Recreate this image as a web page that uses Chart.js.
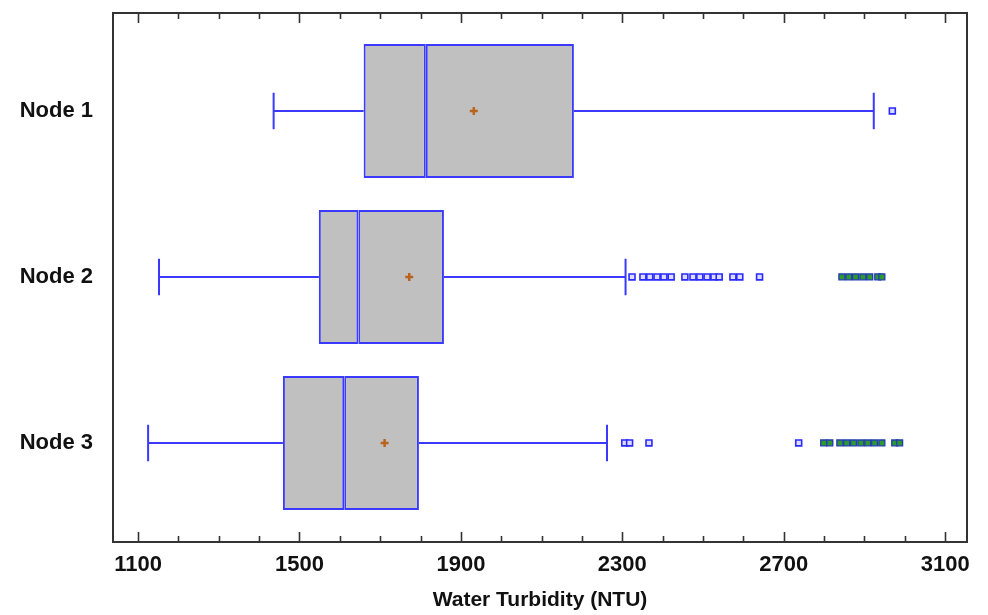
<!DOCTYPE html>
<html>
<head>
<meta charset="utf-8">
<script src="https://cdn.jsdelivr.net/npm/chart.js@4.4.1/dist/chart.umd.min.js"></script>
<style>
  html, body { margin: 0; padding: 0; background: #fff; }
  #wrap { width: 988px; height: 615px; }
</style>
</head>
<body>
<div id="wrap"><canvas id="boxChart"></canvas></div>
<script>
// box plot values
var categories = ["Node 1", "Node 2", "Node 3"];
var whiskerLow = [1436, 1152, 1125];
var q1 = [1659, 1548, 1459];
var median = [1813, 1646, 1611];
var q3 = [2180, 1858, 1796];
var whiskerHigh = [2923, 2308, 2262];
var means = [1932, 1772, 1711];

// outside points (blue) and far outside points (green)
var outliers = [
  [2969],
  [2324, 2351, 2368, 2386, 2403, 2421, 2455, 2475, 2492, 2510, 2527, 2540, 2574, 2591, 2640],
  [2306, 2318, 2366, 2737]
];
var farOutliers = [
  [],
  [2844, 2861, 2878, 2896, 2913, 2933, 2943],
  [2799, 2814, 2839, 2856, 2873, 2891, 2908, 2925, 2943, 2975, 2987]
];

var xTicks = [1100, 1500, 1900, 2300, 2700, 3100];

var FONT = "'Liberation Sans', Arial, sans-serif";
var BLUE = "#3a3aff";

function pointsFrom(lists) {
  var pts = [];
  lists.forEach(function (vals, i) {
    vals.forEach(function (v) { pts.push({ x: v, y: i + 1 }); });
  });
  return pts;
}

// whiskers behind the boxes, frame + inward ticks on top
var boxExtras = {
  id: "boxExtras",
  beforeDatasetsDraw: function (chart) {
    var ctx = chart.ctx, xs = chart.scales.x, ys = chart.scales.y;
    ctx.save();
    ctx.strokeStyle = BLUE;
    ctx.lineWidth = 2;
    categories.forEach(function (c, i) {
      var y = ys.getPixelForValue(i + 1);
      var capTop = ys.getPixelForValue(i + 1 - 0.11);
      var capBot = ys.getPixelForValue(i + 1 + 0.11);
      var lo = xs.getPixelForValue(whiskerLow[i]);
      var hi = xs.getPixelForValue(whiskerHigh[i]);
      ctx.beginPath();
      ctx.moveTo(lo, y); ctx.lineTo(xs.getPixelForValue(q1[i]), y);
      ctx.moveTo(xs.getPixelForValue(q3[i]), y); ctx.lineTo(hi, y);
      ctx.moveTo(lo, capTop); ctx.lineTo(lo, capBot);
      ctx.moveTo(hi, capTop); ctx.lineTo(hi, capBot);
      ctx.stroke();
    });
    ctx.restore();
  },
  afterDraw: function (chart) {
    var ctx = chart.ctx, xs = chart.scales.x, a = chart.chartArea;
    ctx.save();
    ctx.strokeStyle = "#333";
    ctx.lineWidth = 2;
    ctx.strokeRect(a.left, a.top, a.right - a.left, a.bottom - a.top);
    ctx.beginPath();
    for (var v = 1100; v <= 3100; v += 100) {
      var x = Math.round(xs.getPixelForValue(v)) + 0.5;
      var major = (v - 1100) % 400 === 0;
      ctx.moveTo(x, a.bottom); ctx.lineTo(x, a.bottom - (major ? 10 : 6));
      ctx.moveTo(x, a.top); ctx.lineTo(x, a.top + (major ? 10 : 6));
    }
    ctx.lineWidth = 1.6;
    ctx.stroke();
    ctx.restore();
  }
};

var boxStyle = {
  type: "bar",
  indexAxis: "y",
  order: 5,
  grouped: false,
  backgroundColor: "#c0c0c0",
  borderColor: BLUE,
  borderWidth: 2,
  borderSkipped: false,
  categoryPercentage: 1,
  barPercentage: 0.807
};

new Chart(document.getElementById("boxChart"), {
  type: "scatter",
  data: {
    datasets: [
      Object.assign({
        data: categories.map(function (c, i) { return { x: [q1[i], median[i]], y: i + 1 }; })
      }, boxStyle),
      Object.assign({
        data: categories.map(function (c, i) { return { x: [median[i], q3[i]], y: i + 1 }; })
      }, boxStyle),
      {
        data: means.map(function (v, i) { return { x: v, y: i + 1 }; }),
        order: 1,
        pointStyle: "cross",
        radius: 4,
        borderWidth: 2.5,
        borderColor: "#b8641e",
        backgroundColor: "#b8641e"
      },
      {
        data: pointsFrom(outliers),
        order: 2,
        pointStyle: "rect",
        radius: 4.2,
        borderWidth: 1.6,
        borderColor: "#2a2aff",
        backgroundColor: "#dcdcff"
      },
      {
        data: pointsFrom(farOutliers),
        order: 2,
        pointStyle: "rect",
        radius: 4.2,
        borderWidth: 1.4,
        borderColor: "#2540b0",
        backgroundColor: "#2e9a2e"
      }
    ]
  },
  options: {
    responsive: true,
    maintainAspectRatio: false,
    animation: false,
    events: [],
    layout: { padding: { top: 13, right: 21, left: 0, bottom: 0 } },
    plugins: {
      legend: { display: false },
      tooltip: { enabled: false }
    },
    scales: {
      x: {
        type: "linear",
        min: 1038,
        max: 3154,
        offset: false,
        grid: { display: false, drawTicks: false, offset: false },
        border: { display: false },
        afterBuildTicks: function (scale) {
          scale.ticks = xTicks.map(function (v) { return { value: v }; });
        },
        afterFit: function (scale) {
          scale.height = 73;
          scale.paddingLeft = 0;
          scale.paddingRight = 0;
        },
        ticks: {
          color: "#111",
          padding: 10,
          maxRotation: 0,
          font: { family: FONT, size: 22, weight: "bold" },
          callback: function (v) { return String(v); }
        },
        title: {
          display: true,
          text: "Water Turbidity (NTU)",
          color: "#111",
          padding: { top: 0, bottom: 2 },
          font: { family: FONT, size: 21, weight: "bold" }
        }
      },
      y: {
        type: "linear",
        min: 0.41,
        max: 3.597,
        reverse: true,
        offset: false,
        grid: { display: false, drawTicks: false, offset: false },
        border: { display: false },
        afterBuildTicks: function (scale) {
          scale.ticks = categories.map(function (c, i) { return { value: i + 1 }; });
        },
        afterFit: function (scale) {
          scale.width = 113;
          scale.paddingTop = 0;
          scale.paddingBottom = 0;
        },
        ticks: {
          color: "#111",
          padding: 20,
          font: { family: FONT, size: 22, weight: "bold" },
          callback: function (v) { return categories[v - 1]; }
        }
      }
    }
  },
  plugins: [boxExtras]
});
</script>
</body>
</html>
